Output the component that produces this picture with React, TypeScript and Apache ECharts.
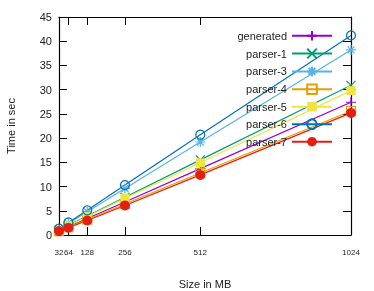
import React, { useEffect, useRef } from "react";
import * as echarts from "echarts";

const sizes = [32, 64, 128, 256, 512, 1024];
const seriesNames = ["generated", "parser-1", "parser-3", "parser-4", "parser-5", "parser-6", "parser-7"];
const generated = [0.9, 1.7, 3.4, 6.8, 13.7, 27.4];
const parser1 = [1.0, 2.0, 3.9, 7.8, 15.5, 30.9];
const parser3 = [1.2, 2.4, 4.8, 9.6, 19.2, 38.2];
const parser4 = [0.8, 1.6, 3.2, 6.4, 12.8, 25.6];
const parser5 = [1.0, 1.9, 3.8, 7.6, 14.9, 29.8];
const parser6 = [1.3, 2.6, 5.1, 10.3, 20.7, 41.2];
const parser7 = [0.8, 1.5, 3.0, 6.1, 12.4, 25.2];

const colors = ["#9400d3", "#009e73", "#56b4e9", "#e69f00", "#f0e442", "#0072b2", "#e51e10"];
const values = [generated, parser1, parser3, parser4, parser5, parser6, parser7];

const symbolDefs: any[] = [
  { symbol: "path://M0,5L10,5M5,0L5,10", size: 10, open: true },
  { symbol: "path://M0,0L10,10M0,10L10,0", size: 9, open: true },
  { symbol: "path://M0,5L10,5M5,0L5,10M1.5,1.5L8.5,8.5M1.5,8.5L8.5,1.5", size: 10, open: true },
  { symbol: "rect", size: 9, open: true },
  { symbol: "rect", size: 9, open: false },
  { symbol: "circle", size: 9, open: true },
  { symbol: "circle", size: 10, open: false },
];

export default function App() {
  const ref = useRef<HTMLDivElement>(null);
  useEffect(() => {
    if (!ref.current) return;
    const chart = echarts.init(ref.current, undefined, { renderer: "svg" });
    const font = "'Liberation Sans', Arial, sans-serif";
    const series = seriesNames.map((name, i) => {
      const d = symbolDefs[i];
      return {
        name,
        type: "line",
        data: sizes.map((s, j) => [s, values[i][j]]),
        symbol: d.symbol,
        symbolSize: d.size,
        showSymbol: true,
        lineStyle: { color: colors[i], width: 1.2 },
        itemStyle: d.open
          ? { color: "rgba(0,0,0,0)", borderColor: colors[i], borderWidth: 1.2 }
          : { color: colors[i], borderColor: colors[i], borderWidth: 0 },
        emphasis: { disabled: true },
        xAxisIndex: 0,
        yAxisIndex: 0,
      };
    });
    chart.setOption({
      animation: false,
      textStyle: { fontFamily: font },
      grid: { left: 59, top: 17, right: 23, bottom: 56, outerBoundsMode: "none", containLabel: false },
      legend: {
        orient: "vertical",
        right: 36,
        top: 25,
        align: "right",
        itemWidth: 40,
        itemHeight: 12,
        itemGap: 6.2,
        data: seriesNames,
        textStyle: { fontSize: 11, color: "#222", fontFamily: font },
      },
      xAxis: [
        {
          type: "value",
          min: 32,
          max: 1024,
          name: "Size in MB",
          nameLocation: "middle",
          nameGap: 43,
          nameTextStyle: { fontSize: 11, color: "#222" },
          axisLine: { show: true, lineStyle: { color: "#000", width: 1.2 } },
          axisTick: { show: true, inside: true, length: 8, customValues: sizes, lineStyle: { color: "#000" } },
          axisLabel: {
            customValues: sizes,
            fontSize: 8,
            color: "#222",
            margin: 13,
            hideOverlap: false,
            formatter: (v: number) => String(v),
          },
          splitLine: { show: false },
        },
        {
          type: "value",
          position: "top",
          min: 32,
          max: 1024,
          axisLine: { show: true, onZero: false, lineStyle: { color: "#000", width: 1.2 } },
          axisTick: { show: true, inside: true, length: 8, customValues: sizes, lineStyle: { color: "#000" } },
          axisLabel: { show: false },
          splitLine: { show: false },
        },
      ],
      yAxis: [
        {
          type: "value",
          min: 0,
          max: 45,
          interval: 5,
          name: "Time in sec",
          nameLocation: "middle",
          nameGap: 43,
          nameRotate: 90,
          nameTextStyle: { fontSize: 11, color: "#222" },
          axisLine: { show: true, lineStyle: { color: "#000", width: 1.2 } },
          axisTick: { show: true, inside: true, length: 8, lineStyle: { color: "#000" } },
          axisLabel: { fontSize: 11, color: "#222", margin: 7 },
          splitLine: { show: false },
        },
        {
          type: "value",
          position: "right",
          min: 0,
          max: 45,
          interval: 5,
          axisLine: { show: true, onZero: false, lineStyle: { color: "#000", width: 1.2 } },
          axisTick: { show: true, inside: true, length: 8, lineStyle: { color: "#000" } },
          axisLabel: { show: false },
          splitLine: { show: false },
        },
      ],
      series,
    });
    return () => chart.dispose();
  }, []);
  return <div ref={ref} style={{ position: "fixed", left: 0, top: 0, width: 374, height: 291 }} />;
}
